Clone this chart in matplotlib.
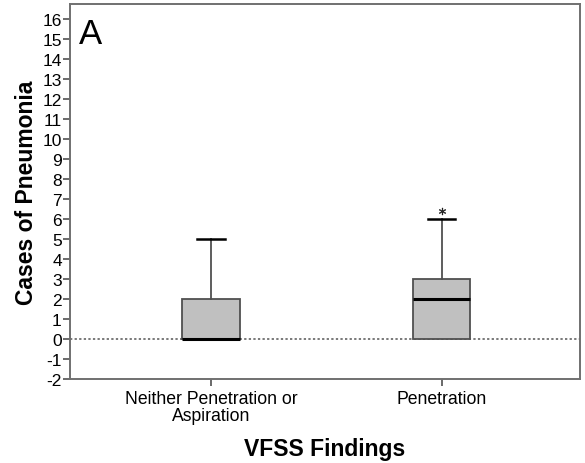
import numpy as np
import matplotlib.pyplot as plt

# summary stats
groups = ["Neither Penetration or\nAspiration", "Penetration"]
q1 = [0, 0]
med = [0, 2]
q3 = [2, 3]
whis_lo = [0, 0]
whis_hi = [5, 6]
fliers = [[], [6.4]]

plt.rcParams['font.family'] = ['Liberation Sans', 'DejaVu Sans']
plt.rcParams['axes.unicode_minus'] = False

fig = plt.figure(figsize=(5.85, 4.64), dpi=100)
ax = fig.add_axes([0.12, 0.181, 0.8715, 0.808])

stats = []
for i in range(len(groups)):
    stats.append(dict(q1=q1[i], med=med[i], q3=q3[i], whislo=whis_lo[i],
                      whishi=whis_hi[i], fliers=fliers[i], label=groups[i]))

ax.axhline(0, color='#555555', ls=(0, (1.5, 1.5)), lw=1.1, zorder=1)
bp = ax.bxp(stats, positions=[1, 2], widths=0.25, patch_artist=True,
            boxprops=dict(facecolor='#c0c0c0', edgecolor='#505050', lw=1.3),
            medianprops=dict(color='black', lw=2.2),
            whiskerprops=dict(color='#505050', lw=1.3),
            capprops=dict(color='black', lw=1.8),
            capwidths=0.12,
            flierprops=dict(marker='$*$', markersize=5, markeredgewidth=0.3,
                            color='#333333', markerfacecolor='#333333'),
            zorder=2)
# SPSS doesn't show the lower cap when it sits on the box edge
for c in bp['caps'][0::2]:
    c.set_visible(False)

ax.set_xlim(0.39, 2.6)
ax.set_ylim(-2, 16.77)
ax.set_yticks(np.arange(-2, 17))
ax.tick_params(axis='y', labelsize=12.5, length=5, width=1.2, color='#505050', pad=1)
ax.tick_params(axis='x', labelsize=12.7, length=5, width=1.2, color='#505050', pad=3)
for lbl in ax.get_xticklabels():
    lbl.set_linespacing(1.0)
for s in ax.spines.values():
    s.set_color('#707070')
    s.set_linewidth(1.4)

ax.set_ylabel("Cases of Pneumonia", fontsize=16.5, fontweight='bold', labelpad=3)
ax.set_xlabel("VFSS Findings", fontsize=16.5, fontweight='bold')
ax.xaxis.set_label_coords(0.5, -0.155)
ax.text(0.017, 0.965, "A", transform=ax.transAxes, fontsize=25, va='top', ha='left')

fig.savefig("out.png", dpi=100)
